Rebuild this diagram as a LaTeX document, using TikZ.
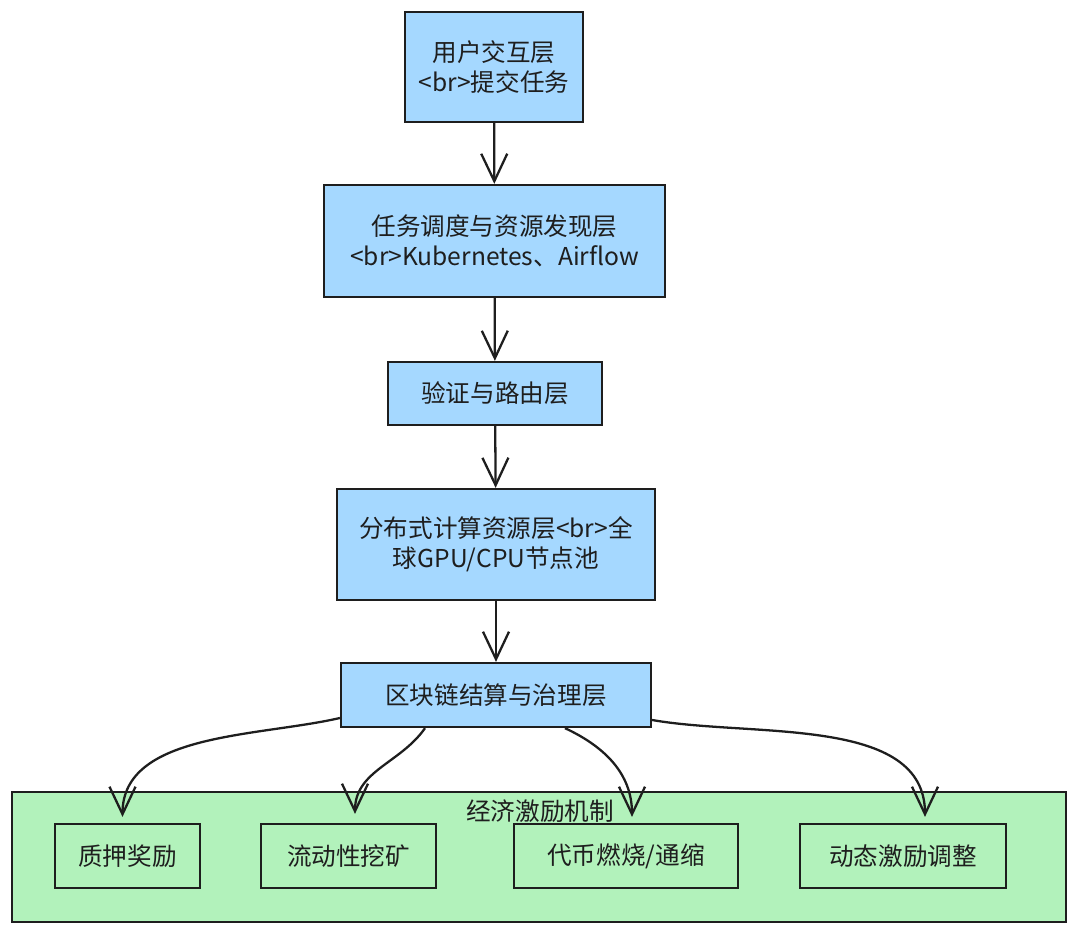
\documentclass[tikz,border=0pt]{standalone}
\usepackage{fontspec}
\setmainfont{Noto Sans CJK SC}
\usepackage{tikz}
\usetikzlibrary{arrows.meta}
\definecolor{layerblue}{HTML}{A5D8FF}
\definecolor{incgreen}{HTML}{B2F2BB}
\definecolor{ink}{HTML}{1E1E1E}

\begin{document}
\begin{tikzpicture}[x=0.02cm, y=0.02cm,
    every node/.style={font=\fontsize{14}{17}\selectfont, text=ink, align=center},
    layer/.style={draw=ink, line width=1.3pt, fill=layerblue},
    reward/.style={draw=ink, line width=1.3pt, fill=incgreen, minimum height=1.28cm},
    flow/.style={draw=ink, line width=1.3pt, -{Straight Barb[length=5.5mm,width=5.2mm]}}]
    \useasboundingbox (0,0) rectangle (1080,-934);

    \node[layer, minimum width=3.56cm, minimum height=2.2cm] (user) at (494,-67) {用户交互层\\<br>提交任务};
    \node[layer, minimum width=6.82cm, minimum height=2.24cm] (sched) at (494.5,-241) {任务调度与资源发现层\\<br>Kubernetes、Airflow};
    \node[layer, minimum width=4.28cm, minimum height=1.26cm] (route) at (495,-393.5) {验证与路由层};
    \node[layer, minimum width=6.36cm, minimum height=2.22cm] (compute) at (496,-544.5) {分布式计算资源层<br>全\\球GPU/CPU节点池};
    \node[layer, minimum width=6.2cm, minimum height=1.28cm] (chain) at (496,-695) {区块链结算与治理层};

    \node[draw=ink, line width=1.3pt, fill=incgreen, minimum width=21.08cm, minimum height=2.6cm] (econ) at (539,-857) {};
    \node (econtitle) at (540,-811) {经济激励机制};

    \node[reward, minimum width=2.9cm] (stake) at (127.5,-856) {质押奖励};
    \node[reward, minimum width=3.5cm] (mining) at (348.5,-856) {流动性挖矿};
    \node[reward, minimum width=4.48cm] (burn) at (626,-856) {代币燃烧/通缩};
    \node[reward, minimum width=4.12cm] (adjust) at (903,-856) {动态激励调整};

    \draw[flow] (user) -- (sched);
    \draw[flow] (sched) -- (route);
    \draw[flow] (route) -- (compute);
    \draw[flow] (compute) -- (chain);

    \draw[flow] ([yshift=-0.46cm]chain.west) to[out=193, in=90, looseness=0.9] ([xshift=-0.1cm, yshift=0.12cm]stake.north);
    \draw[flow] ([xshift=-1.42cm]chain.south) to[out=235, in=90] ([xshift=0.13cm, yshift=0.18cm]mining.north);
    \draw[flow] ([xshift=1.38cm]chain.south) to[out=-25, in=90] ([xshift=0.12cm, yshift=0.12cm]burn.north);
    \draw[flow] ([yshift=-0.5cm]chain.east) to[out=-10, in=90, looseness=0.9] ([xshift=0.44cm, yshift=0.12cm]adjust.north);
\end{tikzpicture}
\end{document}
